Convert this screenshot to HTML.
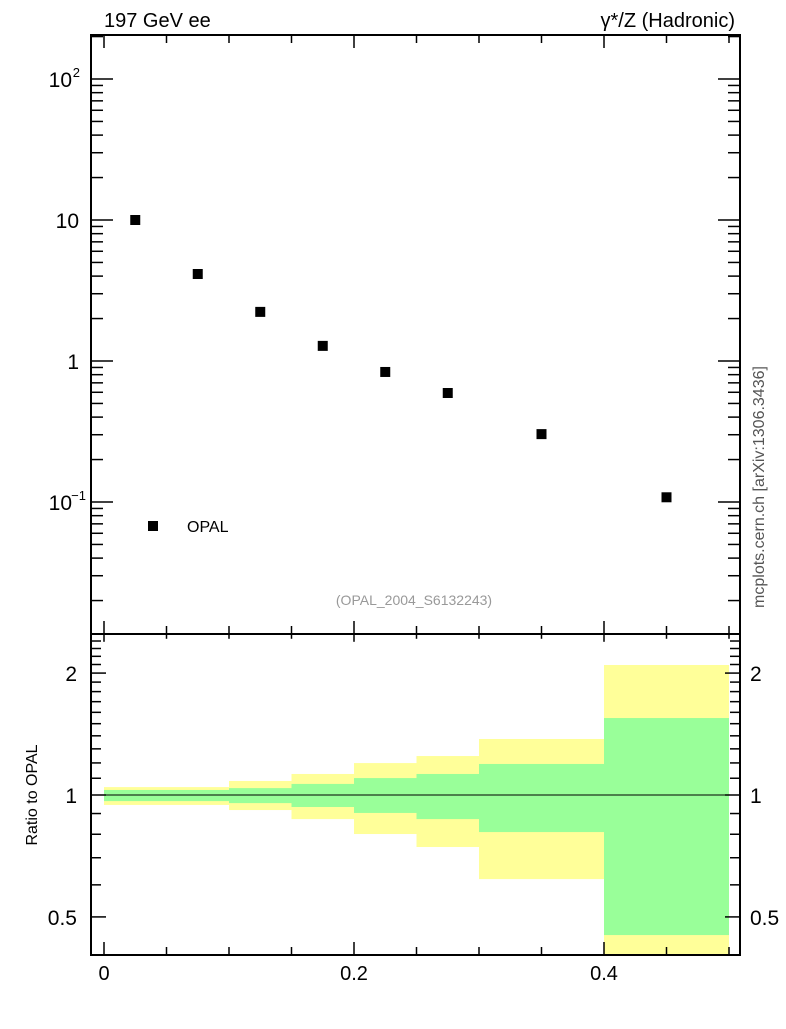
<!DOCTYPE html>
<html><head><meta charset="utf-8"><style>
body{margin:0;background:#fff;}
svg text{font-family:"Liberation Sans",sans-serif;}
</style></head><body>
<svg id="c" width="786" height="1024" xmlns="http://www.w3.org/2000/svg">
<text x="104" y="27" font-size="20">197 GeV ee</text>
<text x="735" y="27" font-size="20" text-anchor="end">γ*/Z (Hadronic)</text>
<text x="764" y="487" font-size="16" fill="#555" text-anchor="middle" transform="rotate(-90 764 487)">mcplots.cern.ch [arXiv:1306.3436]</text>
<text x="414" y="605" font-size="14" fill="#999" text-anchor="middle">(OPAL_2004_S6132243)</text>
<text x="37" y="795" font-size="16" text-anchor="middle" transform="rotate(-90 37 795)">Ratio to OPAL</text>
<g id="g"></g>
</svg>
<script>
const xCenters=[0.025,0.075,0.125,0.175,0.225,0.275,0.35,0.45];
const yValues=[10,4.14,2.23,1.28,0.836,0.593,0.303,0.108];
const binEdges=[0,0.1,0.15,0.2,0.25,0.3,0.4,0.5];
const yellowHi=[1.046,1.083,1.127,1.199,1.248,1.375,2.094];
const yellowLo=[0.945,0.918,0.872,0.801,0.744,0.620,0.40];
const greenHi=[1.029,1.040,1.065,1.101,1.127,1.193,1.549];
const greenLo=[0.966,0.955,0.934,0.903,0.872,0.810,0.451];
const xTicks=[0,0.2,0.4];
const xTickLabels=["0","0.2","0.4"];

const NS="http://www.w3.org/2000/svg",g=document.getElementById('g');
const L=91,R=740,T=35,M=634,B=955;
const X=v=>104+v*1250;
const Y=v=>220-(Math.log10(v)-1)*141;
const YR=v=>795-Math.log10(v)*405;
function el(t,a){const e=document.createElementNS(NS,t);for(const k in a)e.setAttribute(k,a[k]);g.appendChild(e);return e;}
for(let i=0;i<binEdges.length-1;i++){
 const x0=X(binEdges[i]),x1=X(binEdges[i+1]);
 const hiY=Math.max(YR(yellowHi[i]),M),loY=Math.min(YR(yellowLo[i]),B);
 let r=el('rect',{x:x0,y:hiY,width:x1-x0,height:loY-hiY,fill:'#ffff99'});
 
 
 const gh=YR(greenHi[i]),gl=YR(greenLo[i]);
 r=el('rect',{x:x0,y:gh,width:x1-x0,height:gl-gh,fill:'#99ff99'});
 
 
}
let ln=el('line',{x1:X(0),x2:X(0.5),y1:YR(1),y2:YR(1),stroke:'#000','stroke-width':1});


for(const [y0,y1] of [[T,M],[M,B]]){
 const f=el('rect',{x:L,y:y0,width:R-L,height:y1-y0,fill:'none',stroke:'#000','stroke-width':2});
 
 
}
for(let k=0;k<=10;k++){const v=k*0.05,x=X(v),len=(k%4==0)?13:8;
 el('line',{x1:x,x2:x,y1:T,y2:T+len,stroke:'#000','stroke-width':1.5});
 el('line',{x1:x,x2:x,y1:M,y2:M-len,stroke:'#000','stroke-width':1.5});
 el('line',{x1:x,x2:x,y1:M,y2:M+len*0.6,stroke:'#000','stroke-width':1.5});
 el('line',{x1:x,x2:x,y1:B,y2:B-len,stroke:'#000','stroke-width':1.5});
}
xTicks.forEach((v,i)=>{const t=el('text',{x:X(v),y:980,'font-size':20,'text-anchor':'middle'});t.textContent=xTickLabels[i];
 
 });
for(let d=-2;d<=2;d++)for(let m=1;m<10;m++){const v=m*Math.pow(10,d),y=Y(v);if(y<T||y>M)continue;
 const len=m==1?22:12;
 el('line',{x1:L,x2:L+len,y1:y,y2:y,stroke:'#000','stroke-width':1.5});
 el('line',{x1:R,x2:R-len,y1:y,y2:y,stroke:'#000','stroke-width':1.5});}
[[100,"10",'2'],[10,"10",null],[1,"1",null],[0.1,"10",'−1']].forEach(([v,s,e])=>{
 const t=el('text',{x:e?72:79,y:Y(v)+8,'font-size':21,'text-anchor':'end'});t.textContent=s;
 
 
 if(e){const s2=el('text',{x:e=='2'?80:86,y:Y(v)-2,'font-size':13,'text-anchor':'end'});s2.textContent=e;}
});
[0.5,0.6,0.7,0.8,0.9,1,1.1,1.2,1.3,1.4,1.5,1.6,1.7,1.8,1.9,2,2.1,2.2,2.3,2.4].forEach(v=>{const y=YR(v);
 const len=(v==0.5||v==1||v==2)?15:10;
 el('line',{x1:L,x2:L+len,y1:y,y2:y,stroke:'#000','stroke-width':1.5});
 el('line',{x1:R,x2:R-len,y1:y,y2:y,stroke:'#000','stroke-width':1.5});});
[[2,"2"],[1,"1"],[0.5,"0.5"]].forEach(([v,s])=>{
 let t=el('text',{x:77,y:YR(v)+8,'font-size':21,'text-anchor':'end'});t.textContent=s;
 
 
 t=el('text',{x:750,y:YR(v)+8,'font-size':21});t.textContent=s;
 
 });
xCenters.forEach((v,i)=>{const r=el('rect',{x:X(v)-5,y:Y(yValues[i])-5,width:10,height:10,fill:'#000'});
 
 });
let lg=el('rect',{x:148,y:521,width:10,height:10,fill:'#000'});


lg=el('text',{x:187,y:532,'font-size':16});lg.textContent='OPAL';


</script>
</body></html>
